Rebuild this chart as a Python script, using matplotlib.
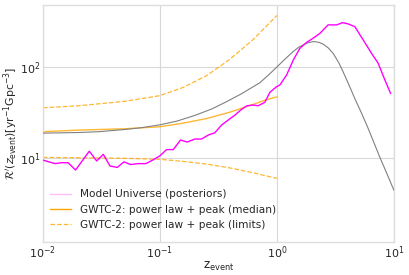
import matplotlib
matplotlib.use("Agg")
import matplotlib.pyplot as plt
import numpy as np

# Model Universe (posteriors) median curve
z_mu = [0.01, 0.0127, 0.0144, 0.0164, 0.019, 0.0249, 0.0288, 0.0328, 0.0374, 0.0432,
        0.0492, 0.0562, 0.0653, 0.0759, 0.0866, 0.1, 0.114, 0.130, 0.150, 0.171,
        0.199, 0.227, 0.259, 0.295, 0.337, 0.384, 0.438, 0.499, 0.557, 0.627,
        0.692, 0.789, 0.871, 0.993, 1.06, 1.21, 1.38, 1.57, 1.79, 2.04,
        2.33, 2.74, 3.24, 3.64, 4.07, 4.64, 5.47, 6.45, 7.34, 8.38, 9.37]
r_mu = [9.5, 8.7, 8.9, 8.9, 7.4, 11.9, 9.3, 11.0, 8.2, 7.9,
        9.1, 8.5, 8.7, 8.7, 9.5, 10.6, 12.4, 12.4, 15.8, 15.0,
        16.2, 16.2, 17.9, 19.0, 23.1, 26.2, 29.7, 34.3, 37.6, 38.2,
        37.6, 41.0, 52.7, 60.8, 63.4, 81.6, 119, 160, 186, 207,
        234, 290, 290, 307, 297, 277, 198, 141, 110, 72, 51.4]

# grey reference curve
z_sfr = [0.01, 0.02, 0.03, 0.05, 0.07, 0.1, 0.14, 0.2, 0.28, 0.372, 0.5, 0.716,
         0.85, 1.0, 1.18, 1.38, 1.55, 1.79, 1.92, 2.04, 2.16, 2.3, 2.49, 2.75,
         3.03, 3.40, 3.69, 4.1, 4.64, 5.3, 6.0, 6.8, 7.59, 8.7, 10.0]
r_sfr = [18.8, 19.1, 19.5, 20.6, 21.6, 23.2, 25.5, 29.5, 34.8, 41.7, 51.0, 67.3,
         82.0, 100, 123, 148, 166, 182, 187, 190, 189, 186, 178, 162,
         141, 110, 88, 65, 45, 31, 21.5, 14.5, 10.2, 6.8, 4.45]

# GWTC-2 power law + peak
z_gw = [0.01, 0.02, 0.05, 0.1, 0.158, 0.251, 0.398, 0.631, 0.8, 1.0]
r_gw_med = [19.5, 20.3, 21.0, 22.1, 24.2, 27.2, 32.0, 39.0, 43.5, 47.0]
r_gw_hi = [35.7, 37.5, 42.0, 48.5, 59.7, 80.5, 122.0, 202.0, 275.0, 368.0]
r_gw_lo = [10.2, 10.1, 9.95, 9.7, 9.2, 8.6, 7.8, 6.9, 6.4, 6.0]

labels = ["Model Universe (posteriors)",
          "GWTC-2: power law + peak (median)",
          "GWTC-2: power law + peak (limits)"]

plt.rcParams['font.family'] = ['DejaVu Sans']
plt.rcParams['mathtext.fontset'] = 'dejavusans'

fig = plt.figure(figsize=(4.09, 2.75), dpi=100)
ax = fig.add_axes([0.105, 0.12, 0.858, 0.862])

ax.plot(z_mu, r_mu, color='#ff00ff', lw=1.0, zorder=4)
ax.plot(z_sfr, r_sfr, color='gray', lw=0.8, zorder=3)
ax.plot(z_gw, r_gw_med, color='orange', lw=1.0, alpha=0.8, zorder=2)
ax.plot(z_gw, r_gw_hi, color='orange', lw=0.9, ls='--', alpha=0.8, zorder=2)
ax.plot(z_gw, r_gw_lo, color='orange', lw=0.9, ls='--', alpha=0.8, zorder=2)

# legend proxies
h1, = ax.plot([], [], color='#ff00ff', alpha=0.25, lw=1.0)
h2, = ax.plot([], [], color='orange', lw=1.0)
h3, = ax.plot([], [], color='orange', lw=0.9, ls='--', alpha=0.8)

ax.set_xscale('log')
ax.set_yscale('log')
ax.set_xlim(1e-2, 1e1)
ax.set_ylim(1.2, 480)

ax.grid(True, which='major', color='#d8d8d8', lw=0.8)
ax.minorticks_off()
ax.set_axisbelow(True)
for s in ax.spines.values():
    s.set_color('#dddddd')
    s.set_linewidth(1.0)
ax.tick_params(axis='both', which='both', length=0, labelsize=8, colors='#262626', pad=2)

ax.set_xlabel(r"z$_{\rm event}$", fontsize=8.5, color='#262626', labelpad=-1)
ax.set_ylabel(r"$\mathcal{R}'(z_{\rm event})[{\rm yr}^{-1}{\rm Gpc}^{-3}]$", fontsize=7.8,
              color='#262626', labelpad=0)

ax.legend([h1, h2, h3], labels, loc='lower left', frameon=False, fontsize=7.6,
          handlelength=2.0, labelspacing=0.5, borderaxespad=0.3,
          bbox_to_anchor=(0.0, 0.02), labelcolor='#262626')

fig.savefig("out.png", dpi=100)
